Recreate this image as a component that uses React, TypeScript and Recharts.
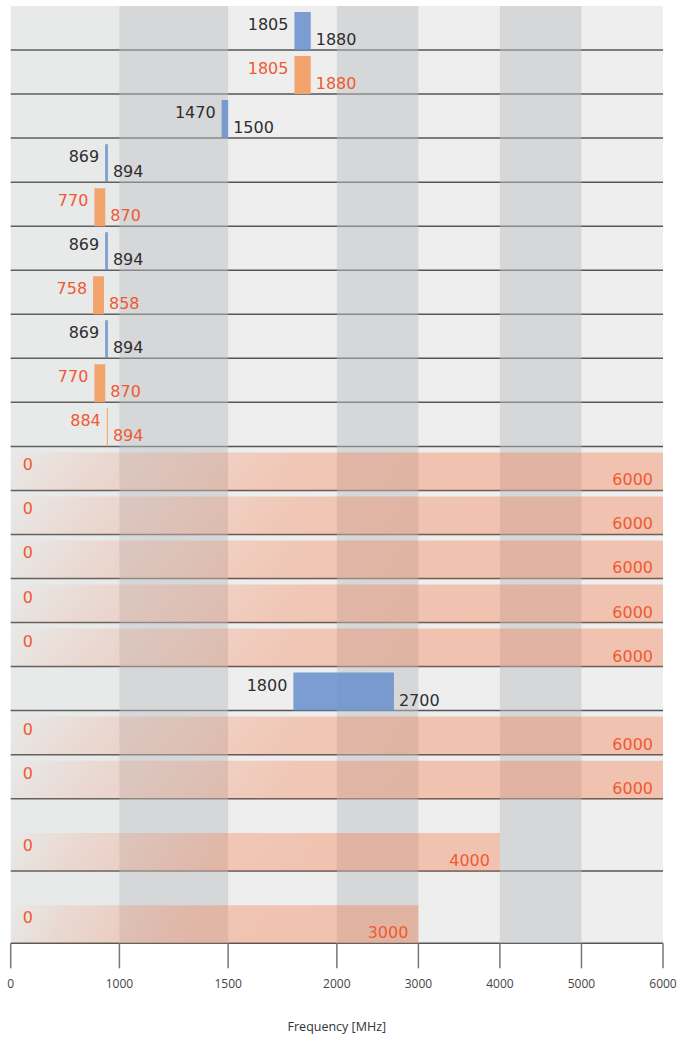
import React from 'react';
import { BarChart, Bar, XAxis, YAxis, ReferenceArea, ReferenceLine, Cell, LabelList } from 'recharts';

// ---------- data ----------
const rowStart = [1805, 1805, 1470, 869, 770, 869, 758, 869, 770, 884, 0, 0, 0, 0, 0, 1800, 0, 0, 0, 0];
const rowEnd = [1880, 1880, 1500, 894, 870, 894, 858, 894, 870, 894, 6000, 6000, 6000, 6000, 6000, 2700, 6000, 6000, 4000, 3000];
// 'blue' = blue band, 'orange' = orange band, 'wide' = shaded wide range
const rowKind = ['blue', 'orange', 'blue', 'blue', 'orange', 'blue', 'orange', 'blue', 'orange', 'orange',
  'wide', 'wide', 'wide', 'wide', 'wide', 'blue', 'wide', 'wide', 'wide', 'wide'];

const tickValues = [0, 1000, 1500, 2000, 3000, 4000, 5000, 6000];
const tickLabels = ['0', '1000', '1500', '2000', '3000', '4000', '5000', '6000'];
const bandShade = ['faint', 'dark', 'none', 'dark', 'none', 'dark', 'none'];
const axisTitle = 'Frequency [MHz]';

// ---------- layout / style ----------
const SEGMENT_WEIGHTS = [4, 4, 4, 3, 3, 3, 3];
const TALL_ROWS = [18, 19];
const TALL_FACTOR = 1.642;
const W = 678;
const H = 1037;
const MARGIN = { top: 6, right: 15, bottom: 0, left: 10.7 };
const X_AXIS_H = 93.7;
const BAR_PX = 38;
const LABEL_FONT = 'DejaVu Sans';

const knots: number[] = [0];
SEGMENT_WEIGHTS.forEach((w, i) => knots.push(knots[i] + w));
const AXIS_MAX = knots[knots.length - 1];

function toAxis(v: number): number {
  for (let i = 0; i < tickValues.length - 1; i++) {
    if (v <= tickValues[i + 1]) {
      const t = (v - tickValues[i]) / (tickValues[i + 1] - tickValues[i]);
      return knots[i] + t * (knots[i + 1] - knots[i]);
    }
  }
  return AXIS_MAX;
}

const rowUnits = rowStart.map((_, i) => (TALL_ROWS.includes(i) ? TALL_FACTOR : 1));
const rowBottoms: number[] = [];
rowUnits.reduce((acc, u) => {
  rowBottoms.push(acc + u);
  return acc + u;
}, 0);
const TOTAL = rowBottoms[rowBottoms.length - 1];
const PLOT_H = H - MARGIN.top - MARGIN.bottom - X_AXIS_H;
const PX_PER_UNIT = PLOT_H / TOTAL;

const data = rowStart.map((s, i) => ({
  yc: rowBottoms[i] - BAR_PX / 2 / PX_PER_UNIT,
  range: [toAxis(s), toAxis(rowEnd[i])],
  kind: rowKind[i],
}));

const bands = bandShade.map((shade, i) => ({
  x1: toAxis(tickValues[i]),
  x2: toAxis(tickValues[i + 1]),
  shade,
}));

const tickFormatter = (v: number) => {
  const idx = knots.findIndex((k) => Math.abs(k - v) < 1e-6);
  return idx >= 0 ? tickLabels[idx] : '';
};

const ORANGE_TEXT = '#f05a30';
const DARK_TEXT = '#2e2e2e';
const WIDE_COLOR = '#f5703a';

const fillFor = (kind: string) =>
  kind === 'blue' ? '#6c92cd' : kind === 'orange' ? '#f2a46c' : 'url(#wideGrad)';
const opacityFor = (kind: string) => (kind === 'blue' ? 0.88 : 1);

const renderLabels = (props: any) => {
  const { x, y, width, index } = props;
  const kind = rowKind[index];
  const color = kind === 'blue' ? DARK_TEXT : ORANGE_TEXT;
  const top = Number(y);
  const left = Number(x);
  const right = left + Number(width);
  const common = { fontFamily: LABEL_FONT, fontSize: 16, fill: color } as any;
  if (kind === 'wide') {
    return (
      <g>
        <text x={left + 12} y={top + 18} textAnchor="start" {...common}>{rowStart[index]}</text>
        <text x={right - 10} y={top + 33} textAnchor="end" {...common}>{rowEnd[index]}</text>
      </g>
    );
  }
  return (
    <g>
      <text x={left - 6} y={top + 18} textAnchor="end" {...common}>{rowStart[index]}</text>
      <text x={right + 5} y={top + 33} textAnchor="start" {...common}>{rowEnd[index]}</text>
    </g>
  );
};

export default function App() {
  return (
    <div style={{ position: 'absolute', left: 0, top: 0, width: W, height: H, background: '#ffffff' }}>
      <BarChart width={W} height={H} data={data} layout="vertical" margin={MARGIN}>
        <defs>
          <linearGradient id="wideGrad" x1="0" y1="0" x2="1" y2="0.05">
            <stop offset="0" stopColor={WIDE_COLOR} stopOpacity={0} />
            <stop offset="0.15" stopColor={WIDE_COLOR} stopOpacity={0.14} />
            <stop offset="0.33" stopColor={WIDE_COLOR} stopOpacity={0.24} />
            <stop offset="0.45" stopColor={WIDE_COLOR} stopOpacity={0.31} />
            <stop offset="0.7" stopColor={WIDE_COLOR} stopOpacity={0.345} />
            <stop offset="1" stopColor={WIDE_COLOR} stopOpacity={0.35} />
          </linearGradient>
        </defs>
        <XAxis
          type="number"
          dataKey="range"
          domain={[0, AXIS_MAX]}
          allowDataOverflow
          ticks={knots}
          interval={0}
          tickFormatter={tickFormatter}
          height={X_AXIS_H}
          axisLine={false}
          tickSize={25}
          tickMargin={11}
          tickLine={{ stroke: '#777777', strokeWidth: 1.5 }}
          tick={{ fill: '#444444', fontSize: 12, fontFamily: 'Open Sans' }}
          label={{ value: axisTitle, position: 'insideBottom', offset: 6, fill: '#333333', fontSize: 12.5, fontFamily: 'Open Sans' }}
        />
        <YAxis type="number" dataKey="yc" domain={[0, TOTAL]} allowDataOverflow hide />
        <ReferenceArea x1={0} x2={AXIS_MAX} y1={0} y2={TOTAL} fill="#eeeeee" fillOpacity={1} stroke="none" zIndex={-90} ifOverflow="visible" />
        {rowBottoms.map((b, i) => (
          <ReferenceLine key={'l' + i} y={b} stroke="#555555" strokeWidth={1.5} zIndex={-80} ifOverflow="visible" />
        ))}
        {bands
          .filter((b) => b.shade !== 'none')
          .map((b, i) => (
            <ReferenceArea
              key={'b' + i}
              x1={b.x1}
              x2={b.x2}
              y1={0}
              y2={TOTAL}
              fill="#bec0c4"
              fillOpacity={b.shade === 'dark' ? 0.5 : 0.1}
              stroke="none"
              zIndex={-70}
              ifOverflow="visible"
            />
          ))}
        <Bar dataKey="range" barSize={BAR_PX} isAnimationActive={false}>
          {data.map((d, i) => (
            <Cell key={'c' + i} fill={fillFor(d.kind)} fillOpacity={opacityFor(d.kind)} />
          ))}
          <LabelList dataKey="range" content={renderLabels} />
        </Bar>
      </BarChart>
    </div>
  );
}
